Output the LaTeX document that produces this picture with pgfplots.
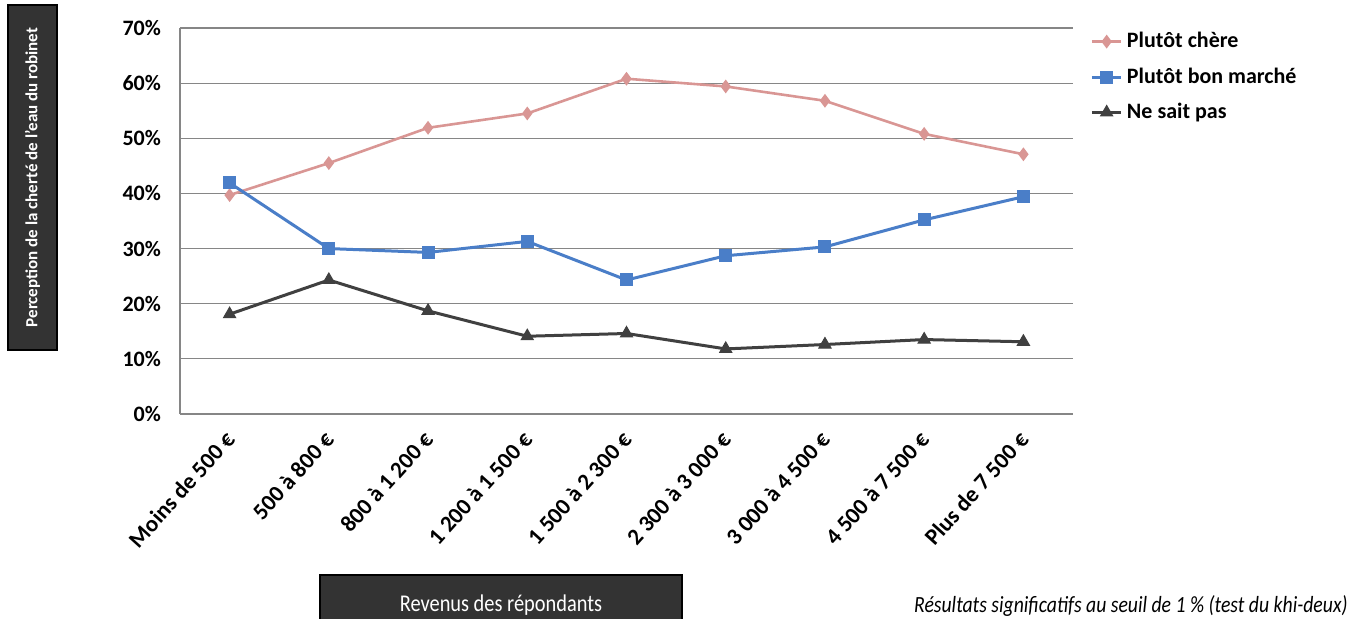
\documentclass[border=0pt]{standalone}
\usepackage{pgfplots}
\pgfplotsset{compat=1.18}
\usepackage{fontspec}
\setmainfont{Carlito}
\newfontfamily\condfont[FakeStretch=0.85]{Carlito}
\definecolor{cpink}{RGB}{217,150,148}
\definecolor{cblue}{RGB}{74,126,200}
\definecolor{cdark}{RGB}{64,64,64}
\definecolor{cbox}{RGB}{51,51,51}
\definecolor{cgrid}{RGB}{134,134,134}
\begin{document}
\begin{tikzpicture}[x=1pt,y=1pt]
\path[use as bounding box] (-90,-102.5) rectangle (591.5,207);
\begin{axis}[
  at={(0,0)}, anchor=south west,
  scale only axis,
  width=446.5pt, height=193pt,
  xmin=-0.5, xmax=8.5,
  ymin=0, ymax=70,
  ytick={0,10,...,70},
  yticklabel={\pgfmathprintnumber{\tick}\%},
  axis x line*=bottom, axis y line*=left,
  axis line style={cgrid, line width=0.6pt, -},
  ymajorgrids, grid style={cgrid, line width=0.6pt},
  major tick length=0pt,
  xtick=data,
  xticklabels={Moins de 500 €, 500 à 800 €, 800 à 1 200 €, 1 200 à 1 500 €, 1 500 à 2 300 €, 2 300 à 3 000 €, 3 000 à 4 500 €, 4 500 à 7 500 €, Plus de 7 500 €},
  xticklabel style={font=\bfseries\fontsize{11.5}{13}\selectfont, xshift=-3pt, yshift=-3pt, rotate=48, anchor=north east},
  yticklabel style={font=\bfseries\fontsize{11}{13}\selectfont, xshift=-6pt},
  /pgf/number format/assume math mode=true,
  legend style={at={(1.019,1.0)}, anchor=north west, draw=none, fill=none,
    font=\bfseries\fontsize{11}{13}\selectfont, row sep=4.5pt,
    legend cell align=left, inner sep=0pt},
  legend image code/.code={\draw[mark repeat=2,mark phase=2] plot coordinates {(0cm,0cm) (0.26cm,0cm) (0.52cm,0cm)};},
  clip=false,
]
\addplot[cpink, line width=1.3pt, mark=diamond*, mark size=2.4pt, mark options={fill=cpink, draw=cpink}] coordinates {
(0,39.7) (1,45.5) (2,51.9) (3,54.5) (4,60.8) (5,59.4) (6,56.8) (7,50.8) (8,47.1)};
\addlegendentry{Plutôt chère}
\addplot[cblue, line width=1.5pt, mark=square*, mark size=3pt, mark options={fill=cblue, draw=cblue, line width=0.5pt}] coordinates {
(0,41.9) (1,30.0) (2,29.3) (3,31.3) (4,24.3) (5,28.7) (6,30.3) (7,35.2) (8,39.4)};
\addlegendentry{Plutôt bon marché}
\addplot[cdark, line width=1.5pt, mark=triangle*, mark size=3.5pt, mark options={fill=cdark, draw=cdark, line width=0.5pt}] coordinates {
(0,18.1) (1,24.3) (2,18.7) (3,14.1) (4,14.6) (5,11.8) (6,12.6) (7,13.5) (8,13.1)};
\addlegendentry{Ne sait pas}
\end{axis}
% y-axis label box
\fill[cbox] (-86,32) rectangle (-61.5,204.5);
\draw[black, line width=0.6pt] (-86,32) rectangle (-61.5,204.5);
\node[rotate=90, text=white, font=\bfseries\fontsize{8.5}{10}\selectfont] at (-73.75,118.25) {Perception de la cherté de l’eau du robinet};
% x-axis label box
\fill[cbox] (70,-80.5) rectangle (251,-110);
\draw[black, line width=0.6pt] (70,-80.5) rectangle (251,-110);
\node[text=white, font=\condfont\fontsize{12}{14}\selectfont, anchor=base] at (160.5,-99) {Revenus des répondants};
% note
\node[font=\condfont\itshape\fontsize{11.6}{13}\selectfont, anchor=base east, inner sep=0pt] at (584,-99.5) {Résultats significatifs au seuil de 1 \% (test du khi-deux)};
\end{tikzpicture}
\end{document}
